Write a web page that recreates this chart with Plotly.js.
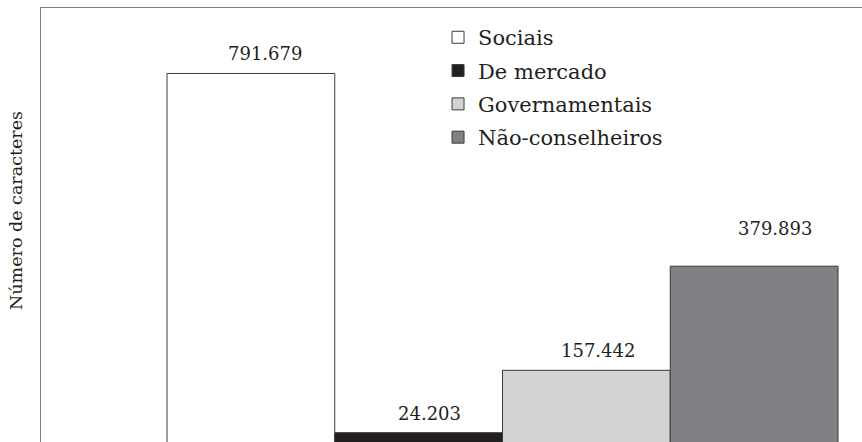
<!DOCTYPE html>
<html>
<head>
<meta charset="utf-8">
<script src="https://cdn.plot.ly/plotly-3.0.1.min.js"></script>
<style>html,body{margin:0;padding:0;background:#fff;}</style>
</head>
<body>
<div id="chart" style="width:862px;height:442px;"></div>
<script>
// Data
const categories = ["Sociais", "De mercado", "Governamentais", "Não-conselheiros"];
const values = [791679, 24203, 157442, 379893];
const valueLabels = ["791.679", "24.203", "157.442", "379.893"];
const yTitle = "Número de caracteres";

// Styles
const fillColors = ["#ffffff", "#231f20", "#d1d2d4", "#808184"];
const labelShiftX = [14, 11, 12, 21];
const labelShiftY = [7, 7, 7, 25];
const serif = "DejaVu Serif, Liberation Serif, serif";

const traces = categories.map((c, i) => ({
  type: "bar",
  name: c,
  x: [c],
  y: [values[i]],
  width: 1,
  legendgroup: "g" + i,
  marker: { color: fillColors[i], line: { color: "#3a3a3a", width: 1 } },
  hoverinfo: "skip",
  cliponaxis: true
}));

const annotations = categories.map((c, i) => ({
  x: c, y: values[i], xref: "x", yref: "y",
  text: valueLabels[i], showarrow: false,
  yanchor: "bottom", xanchor: "center",
  xshift: labelShiftX[i], yshift: labelShiftY[i],
  font: { family: serif, size: 18, color: "#231f20" }
}));
annotations.push({
  xref: "paper", yref: "paper",
  x: -25 / 821, y: (442 - 211) / 434,
  text: yTitle, textangle: -90, showarrow: false,
  xanchor: "center", yanchor: "middle",
  font: { family: serif, size: 17.5, color: "#231f20" }
});

const layout = {
  width: 862, height: 442,
  margin: { l: 41, r: 0, t: 8, b: 0, pad: 0 },
  paper_bgcolor: "#fff", plot_bgcolor: "#fff",
  barmode: "overlay",
  bargap: 0,
  showlegend: true,
  legend: {
    x: 0.4836, y: 0.979, xanchor: "left", yanchor: "top",
    font: { family: serif, size: 21, color: "#231f20" },
    traceorder: "grouped", tracegroupgap: 3,
    bgcolor: "rgba(0,0,0,0)"
  },
  xaxis: {
    type: "category", range: [-1.2511, 3.643], side: "top",
    showline: true, linecolor: "#7f7f7f", linewidth: 1.5,
    showticklabels: false, ticks: "", showgrid: false, zeroline: false,
    fixedrange: true
  },
  yaxis: {
    range: [4270, 931600],
    showline: true, linecolor: "#7f7f7f", linewidth: 1.5,
    showticklabels: false, ticks: "", showgrid: false, zeroline: false,
    fixedrange: true
  },
  annotations: annotations
};

Plotly.newPlot("chart", traces, layout, { displayModeBar: false, staticPlot: true });
</script>
</body>
</html>
